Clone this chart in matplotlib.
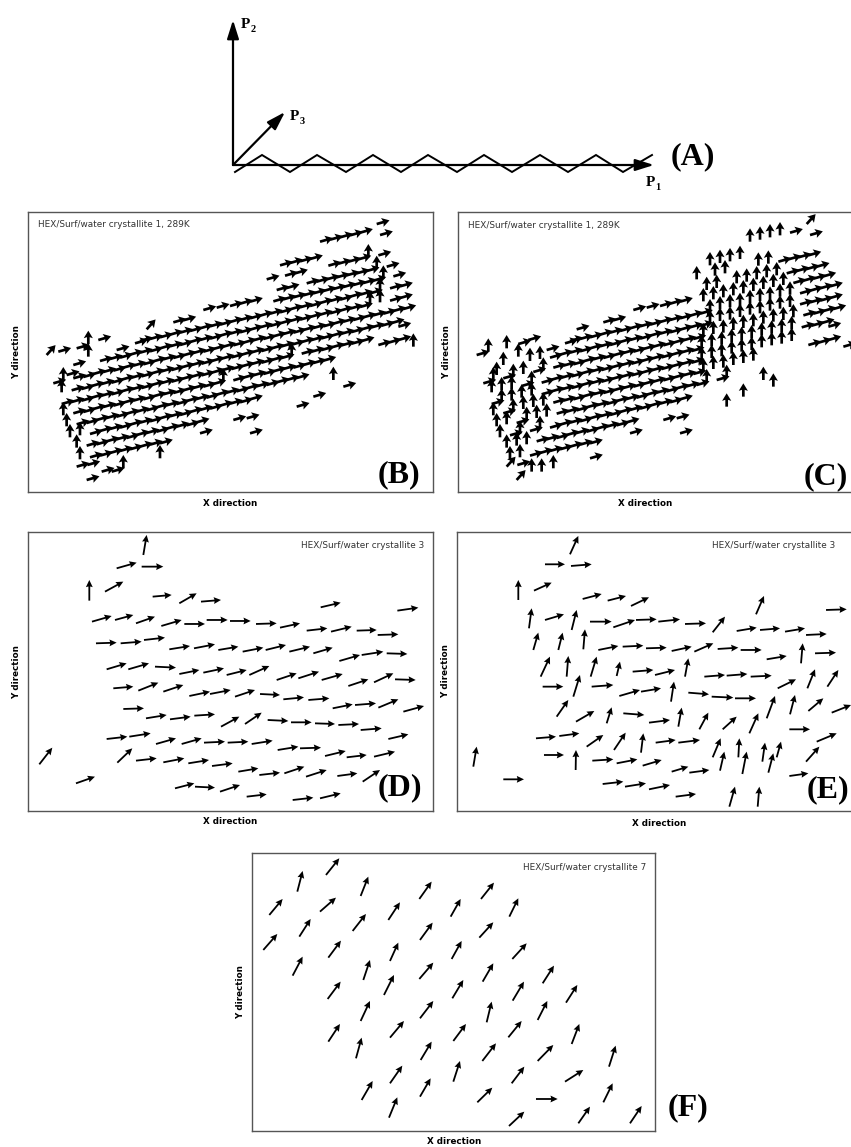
import numpy as np
import matplotlib
matplotlib.use("Agg")
import matplotlib.pyplot as plt

W, H = 851, 1147
fig = plt.figure(figsize=(W / 100, H / 100), dpi=100)

# ---------------- data ----------------
# Panel A schematic (zigzag chain along P1)
ZIGZAG_X = [235, 262, 290, 317, 346, 373, 401, 428, 457, 484, 512, 540, 568, 596, 623, 652]
ZIGZAG_Y = [172, 155, 172, 155, 172, 155, 172, 155, 172, 155, 172, 155, 172, 155, 172, 155]
ORIGIN = (233, 165)
P1_END = (654, 165)
P2_END = (233, 20)
P3_END = (285, 112)

# Panels B / C : molecule positions of crystallite 1 (same molecules in both panels)
ROW_X = [
    [960, 990, 1020, 1050, 1080],
    [840, 870, 900, 930],
    [800, 855, 885, 985, 1015, 1045, 1075, 1105, 1135],
    [830, 860, 920, 950, 980, 1010, 1040, 1070, 1100, 1130, 1160],
    [520, 550, 610, 650, 690, 720, 750, 820, 850, 880, 910, 940, 970, 1000, 1030, 1060, 1090, 1120, 1150, 1180],
    [420, 450, 480, 510, 540, 570, 600, 630, 660, 690, 720, 750, 780, 810, 840, 870, 900, 930, 960, 990, 1020,
     1050, 1080, 1110, 1140, 1170, 1200],
    [300, 330, 360, 390, 420, 450, 480, 510, 540, 570, 600, 630, 660, 690, 720, 750, 780, 810, 840, 870, 900,
     930, 960, 990, 1020, 1050, 1080, 1110, 1140, 1170, 1200],
    [190, 220, 250, 280, 310, 340, 370, 400, 430, 460, 490, 520, 550, 580, 610, 640, 670, 700, 730, 760, 790,
     820, 850, 880, 910, 940, 970, 1000, 1030, 1060, 1090, 1120, 1150, 1180, 1210],
    [185, 215, 245, 275, 305, 335, 365, 395, 425, 455, 485, 515, 545, 575, 605, 635, 665, 695, 725, 755, 785,
     815, 845, 875, 905, 935, 965, 995, 1025, 1055, 1085, 1115, 1145, 1175],
    [185, 215, 245, 275, 305, 335, 365, 395, 425, 455, 485, 515, 545, 575, 605, 635, 665, 695, 725, 755, 785,
     815, 845, 875, 905, 935, 965, 995, 1025, 1055, 1085, 1135, 1165, 1195],
    [190, 220, 250, 280, 310, 340, 370, 400, 430, 460, 490, 520, 550, 580, 610, 640, 670, 700, 730, 760, 790,
     820, 850, 880, 910, 940, 970],
    [200, 230, 260, 290, 320, 350, 380, 410, 440, 470, 500, 530, 560, 590, 620, 650, 680, 710, 740, 770, 800,
     830, 860, 890],
    [210, 240, 270, 300, 330, 360, 390, 420, 450, 480, 510, 540, 570, 600, 630, 660, 690, 720, 750],
    [230, 260, 290, 320, 350, 380, 410, 440, 470, 500, 530, 560, 590],
    [240, 270, 300, 330, 360, 390, 420, 450, 480],
]
ROW_Y = [
    [125, 119, 112, 106, 98],
    [196, 189, 184, 177],
    [238, 227, 220, 197, 191, 185, 178, 172, 166],
    [270, 264, 250, 245, 238, 232, 226, 220, 213, 207, 200],
    [367, 361, 330, 323, 318, 311, 305, 304, 298, 292, 286, 280, 273, 267, 261, 255, 249, 242, 236, 229],
    [423, 417, 412, 404, 398, 393, 385, 379, 374, 366, 360, 355, 347, 341, 337, 328, 322, 318, 309, 303, 299,
     290, 284, 280, 272, 265, 259],
    [483, 477, 473, 464, 458, 454, 445, 439, 435, 426, 420, 416, 407, 401, 397, 389, 382, 378, 370, 363, 359,
     351, 344, 340, 332, 326, 321, 313, 307, 302, 294],
    [541, 535, 531, 522, 516, 512, 503, 497, 493, 484, 478, 474, 466, 459, 455, 447, 440, 436, 428, 421, 417,
     409, 402, 398, 390, 384, 379, 371, 365, 360, 352, 346, 341, 333, 327],
    [577, 571, 567, 558, 552, 548, 539, 533, 529, 520, 514, 510, 502, 495, 491, 483, 476, 472, 464, 457, 453,
     445, 439, 434, 426, 420, 415, 407, 401, 396, 388, 382, 377, 369],
    [612, 606, 602, 593, 587, 583, 574, 568, 564, 555, 549, 545, 537, 530, 526, 518, 511, 507, 499, 492, 488,
     480, 474, 469, 461, 455, 450, 442, 436, 431, 423, 435, 428, 420],
    [646, 640, 636, 627, 621, 617, 608, 602, 598, 589, 583, 579, 571, 564, 560, 552, 545, 541, 533, 526, 522,
     514, 507, 503, 495, 489, 482],
    [679, 673, 669, 660, 654, 650, 641, 635, 631, 622, 616, 612, 603, 597, 593, 584, 578, 574, 565, 559, 555,
     547, 540, 534],
    [712, 706, 702, 693, 687, 683, 674, 668, 664, 655, 649, 645, 636, 630, 626, 617, 611, 607, 598],
    [743, 737, 733, 724, 718, 714, 705, 699, 695, 686, 680, 676, 667],
    [778, 772, 767, 759, 753, 748, 740, 734, 730],
]
# direction codes per molecule: r = along chain, u = up, d = diagonal
B_CODES = [
    "rrrrr", "rrrr", "rrrrrrrur", "rrrrrrrrrur", "r" * 18 + "ur", "r" * 24 + "urr",
    "r" * 27 + "uurr", "u" + "r" * 34, "u" + "r" * 33, "r" * 23 + "u" + "r" * 10,
    "u" + "r" * 15 + "u" + "r" * 10, "u" + "r" * 23, "uu" + "r" * 17, "u" + "r" * 12, "u" + "r" * 8,
]
C_CODES = [
    "uuuur", "uuuu", "uuuuurrrr", "uuuuuuurrrr", "r" * 7 + "u" * 9 + "r" * 4, "r" * 14 + "u" * 9 + "r" * 4,
    "uu" + "r" * 16 + "u" * 9 + "r" * 4, "uruuru" + "r" * 15 + "u" * 10 + "r" * 4,
    "uuurur" + "r" * 15 + "u" * 10 + "r" * 3, "ruuuur" + "r" * 15 + "u" * 10 + "r" * 3,
    "uruuuu" + "r" * 15 + "u" * 6, "uuruuu" + "r" * 15 + "uru", "ururu" + "r" * 14, "uuurr" + "r" * 8,
    "uur" + "r" * 6,
]
SINGLE_X = [1130, 1140, 140, 175, 230, 265, 295, 350, 405, 440, 220, 265, 160, 200, 230, 262, 305, 335, 370,
            260, 480, 600, 750, 700, 740, 890, 940, 1195, 1240, 1000, 1030]
SINGLE_Y = [72, 105, 465, 455, 445, 432, 420, 450, 430, 388, 495, 470, 550, 525, 800, 795, 815, 815, 805,
            840, 775, 700, 700, 660, 655, 620, 590, 380, 440, 540, 560]
SINGLE_B = "rrdrrurrrdrurrrrrrururrrrrrruurr"
SINGLE_C = "drruurrrrruurudruuudrrrrruurruu"
CODE_ANGLE = {"r": 16, "u": 90, "d": 48}

# Panel D : crystallite 3, (tail x, tail y, head x, head y)
D_ARROWS = [
    (430, 105, 440, 45), (350, 145, 410, 128), (425, 140, 490, 140), (268, 242, 268, 180), (315, 215, 370, 185),
    (458, 230, 515, 225), (538, 250, 590, 220), (603, 245, 663, 240), (962, 262, 1022, 248), (1192, 272, 1255, 263),
    (276, 305, 335, 288), (345, 300, 400, 285), (408, 310, 465, 290), (484, 318, 545, 300), (553, 312, 615, 312),
    (620, 300, 683, 300), (690, 303, 752, 303), (768, 312, 830, 310), (840, 323, 900, 310), (920, 332, 982, 325),
    (993, 335, 1055, 320), (1070, 332, 1130, 330), (1133, 345, 1195, 343), (288, 370, 350, 368), (362, 370, 425, 365),
    (432, 360, 495, 353), (508, 388, 570, 378), (582, 385, 645, 373), (655, 390, 715, 380), (728, 395, 790, 383),
    (797, 390, 858, 375), (868, 395, 930, 380), (940, 400, 998, 383), (1018, 423, 1080, 405), (1085, 405, 1150, 395),
    (1160, 400, 1222, 402), (320, 448, 380, 430), (385, 448, 447, 430), (465, 440, 528, 443), (538, 462, 598, 450),
    (610, 458, 672, 445), (680, 465, 740, 450), (748, 465, 808, 438), (830, 480, 890, 460), (895, 475, 957, 455),
    (965, 480, 1028, 462), (1045, 498, 1105, 478), (1122, 487, 1180, 460), (1185, 478, 1247, 480), (340, 505, 400, 500),
    (415, 512, 475, 488), (490, 515, 550, 495), (568, 528, 630, 515), (630, 522, 692, 510), (705, 530, 765, 510),
    (780, 522, 840, 525), (850, 538, 912, 532), (925, 540, 988, 535), (998, 565, 1058, 553), (1065, 555, 1128, 550),
    (1135, 563, 1195, 538), (1210, 575, 1272, 558), (370, 567, 432, 565), (438, 595, 500, 585), (510, 598, 572, 590),
    (583, 587, 645, 583), (663, 620, 718, 590), (735, 612, 785, 578), (803, 600, 865, 603), (873, 607, 935, 607),
    (945, 610, 1005, 612), (1015, 615, 1077, 612), (1082, 630, 1145, 625), (1165, 657, 1225, 643), (320, 657, 382, 650),
    (388, 650, 452, 640), (468, 672, 528, 655), (545, 672, 605, 655), (612, 668, 675, 665), (683, 668, 745, 665),
    (755, 672, 818, 662), (833, 690, 895, 680), (900, 685, 963, 683), (975, 708, 1037, 693), (1040, 712, 1100, 705),
    (1122, 710, 1185, 695), (118, 733, 157, 683), (352, 728, 397, 685), (408, 722, 470, 715), (490, 727, 553, 715),
    (565, 730, 627, 720), (636, 738, 698, 730), (228, 790, 285, 770), (715, 755, 775, 745), (778, 765, 840, 758),
    (853, 760, 913, 740), (918, 770, 980, 750), (1012, 768, 1072, 760), (1088, 785, 1140, 750), (525, 805, 583, 790),
    (585, 800, 645, 803), (660, 815, 720, 795), (740, 830, 800, 823), (878, 840, 940, 833), (960, 835, 1022, 820),
]

# Panel E : crystallite 3, second orientation
E_ARROWS = [
    (360, 103, 385, 48), (285, 133, 345, 133), (363, 138, 425, 133), (205, 240, 205, 180), (252, 212, 305, 188),
    (398, 237, 455, 222), (473, 242, 528, 228), (543, 258, 597, 232), (918, 283, 942, 228), (1128, 270, 1190, 268),
    (237, 325, 245, 265), (285, 300, 342, 283), (365, 330, 380, 270), (420, 305, 485, 305), (490, 322, 555, 300),
    (558, 300, 620, 298), (625, 305, 690, 298), (705, 312, 768, 310), (788, 337, 825, 290), (860, 333, 920, 323),
    (930, 330, 990, 325), (1005, 335, 1065, 325), (1068, 345, 1130, 342), (250, 390, 265, 338), (325, 390, 338, 338),
    (400, 388, 405, 328), (445, 390, 505, 378), (518, 380, 580, 377), (588, 385, 650, 383), (665, 393, 725, 380),
    (733, 395, 790, 370), (803, 387, 865, 383), (872, 390, 935, 390), (950, 418, 1010, 408), (1053, 430, 1058, 370),
    (1095, 400, 1158, 398), (272, 470, 300, 410), (350, 470, 355, 408), (422, 470, 440, 410), (500, 468, 510, 425),
    (548, 455, 610, 450), (615, 465, 675, 450), (705, 470, 715, 415), (763, 470, 825, 465), (830, 467, 892, 462),
    (902, 470, 965, 467), (278, 500, 340, 500), (370, 530, 390, 465), (425, 500, 490, 495), (508, 528, 570, 510),
    (573, 515, 633, 505), (663, 545, 672, 485), (715, 518, 777, 523), (785, 530, 850, 533), (855, 535, 918, 535),
    (983, 505, 1038, 478), (1072, 505, 1095, 448), (1132, 500, 1165, 450), (320, 590, 355, 540), (378, 605, 433, 573),
    (470, 610, 485, 562), (520, 580, 583, 585), (597, 608, 660, 600), (685, 620, 695, 563), (748, 628, 775, 578),
    (818, 628, 860, 590), (898, 640, 925, 580), (950, 595, 975, 528), (1020, 583, 1035, 525), (1075, 573, 1120, 535),
    (1145, 578, 1203, 555), (258, 655, 318, 650), (328, 648, 388, 640), (410, 680, 460, 645), (492, 690, 527, 638),
    (573, 698, 580, 640), (617, 668, 677, 660), (685, 668, 750, 660), (788, 712, 812, 655), (865, 712, 868, 655),
    (937, 725, 945, 668), (980, 712, 993, 665), (1018, 628, 1080, 628), (1100, 665, 1160, 640), (282, 705, 342, 705),
    (377, 750, 378, 690), (427, 722, 490, 718), (500, 730, 562, 718), (578, 737, 635, 720), (1068, 725, 1108, 680),
    (160, 778, 222, 778), (70, 740, 80, 680), (458, 792, 520, 785), (525, 800, 588, 790), (597, 808, 660, 795),
    (665, 755, 715, 740), (718, 758, 778, 750), (810, 752, 823, 695), (877, 762, 890, 695), (955, 758, 970, 700),
    (1018, 768, 1075, 760), (677, 830, 738, 822), (838, 860, 855, 800), (923, 860, 928, 800),
]

# Panel F : crystallite 7
F_ARROWS = [
    (258, 180, 298, 130), (172, 230, 188, 168), (88, 300, 128, 252), (240, 290, 288, 248), (362, 243, 385, 185),
    (538, 252, 575, 200), (723, 252, 762, 203), (70, 405, 112, 357), (178, 365, 212, 312), (338, 348, 378, 297),
    (445, 315, 480, 262), (632, 305, 662, 252), (808, 305, 835, 250), (158, 482, 188, 425), (265, 428, 303, 377),
    (540, 375, 578, 323), (718, 368, 760, 322), (450, 438, 475, 383), (635, 432, 665, 378), (817, 432, 860, 385),
    (370, 495, 390, 435), (263, 552, 302, 500), (432, 540, 462, 480), (538, 492, 580, 443), (728, 500, 760, 445),
    (908, 505, 942, 452), (637, 550, 670, 495), (818, 557, 852, 500), (978, 563, 1012, 510), (362, 618, 390, 558),
    (540, 610, 580, 558), (740, 622, 755, 560), (893, 615, 922, 558), (265, 680, 300, 627), (450, 668, 492, 618),
    (640, 678, 678, 627), (805, 667, 845, 618), (995, 687, 1018, 627), (348, 730, 365, 668), (542, 735, 575, 680),
    (727, 738, 768, 685), (893, 738, 940, 690), (1107, 755, 1127, 692), (450, 805, 487, 752), (640, 800, 660, 738),
    (815, 805, 853, 755), (975, 800, 1030, 765), (365, 855, 398, 798), (540, 845, 572, 790), (712, 862, 757, 818),
    (888, 852, 953, 852), (1090, 862, 1118, 805), (447, 908, 472, 847), (807, 933, 853, 890), (1015, 925, 1050, 875),
    (1170, 925, 1205, 873),
]

TITLE_1 = "HEX/Surf/water crystallite 1, 289K"
TITLE_3 = "HEX/Surf/water crystallite 3"
TITLE_7 = "HEX/Surf/water crystallite 7"

# ---------------- helpers ----------------
SERIF = ["Liberation Serif", "DejaVu Serif"]


def px_axes(l, t, r, b):
    ax = fig.add_axes([l / W, 1 - b / H, (r - l) / W, (b - t) / H])
    ax.set_xticks([])
    ax.set_yticks([])
    for s in ax.spines.values():
        s.set_color("#555555")
        s.set_linewidth(1.0)
    return ax


def dense_quiver(ax, codes_rows, single_codes):
    xs, ys, us, vs = [], [], [], []
    for rx, ry, rc in zip(ROW_X, ROW_Y, codes_rows):
        rc = (rc + "r" * len(rx))[: len(rx)]
        for x, y, c in zip(rx, ry, rc):
            a = np.deg2rad(CODE_ANGLE[c])
            xs.append(x); ys.append(y); us.append(np.cos(a)); vs.append(np.sin(a))
    sc = (single_codes + "r" * len(SINGLE_X))[: len(SINGLE_X)]
    for x, y, c in zip(SINGLE_X, SINGLE_Y, sc):
        a = np.deg2rad(CODE_ANGLE[c])
        xs.append(x); ys.append(y); us.append(np.cos(a)); vs.append(np.sin(a))
    us = np.array(us) * 40
    vs = np.array(vs) * 40
    ax.quiver(xs, ys, us, vs, angles="uv", scale_units="x", scale=1, units="dots",
              width=2.7, headwidth=3.4, headlength=2.8, headaxislength=2.4,
              color="black", pivot="tail", zorder=3)


def vector_quiver(ax, arrows):
    arr = np.array(arrows, dtype=float)
    x0, y0, x1, y1 = arr.T
    ax.quiver(x0, y0, x1 - x0, y0 - y1, angles="uv", scale_units="x", scale=1, units="dots",
              width=1.8, headwidth=3.8, headlength=4.0, headaxislength=3.6,
              color="black", pivot="tail", zorder=3)


def labels(l, t, r, b, tag, tag_x, tag_y):
    fig.text(l / W - 12 / W, 1 - ((t + b) / 2) / H, "Y direction", rotation=90, ha="center", va="center",
             fontsize=6.3, fontweight="bold")
    fig.text(((l + r) / 2) / W, 1 - (b + 11) / H, "X direction", ha="center", va="center",
             fontsize=6.3, fontweight="bold")
    fig.text(tag_x / W, 1 - tag_y / H, tag, ha="center", va="center", fontsize=23,
             fontweight="bold", family=SERIF)


# ---------------- panel A ----------------
axA = fig.add_axes([0, 0, 1, 1])
axA.set_xlim(0, W)
axA.set_ylim(H, 0)
axA.axis("off")
axA.plot(ZIGZAG_X, ZIGZAG_Y, color="black", lw=1.4, solid_joinstyle="miter")
for end in (P1_END, P2_END, P3_END):
    axA.annotate("", xy=end, xytext=ORIGIN,
                 arrowprops=dict(arrowstyle="-|>,head_length=0.7,head_width=0.22", lw=1.6,
                                 color="black", mutation_scale=16, shrinkA=0, shrinkB=0))
for (px, py, sub) in [(245, 24, "2"), (294, 116, "3"), (650, 182, "1")]:
    axA.text(px, py, "P", fontsize=11, fontweight="bold", family=SERIF, ha="center", va="center")
    axA.text(px + 8, py + 5, sub, fontsize=7.5, fontweight="bold", family=SERIF, ha="center", va="center")
fig.text(693 / W, 1 - 157 / H, "(A)", ha="center", va="center", fontsize=23, fontweight="bold", family=SERIF)

# ---------------- panel B ----------------
boxB = (28.3, 211.7, 432.7, 492.3)
axB = px_axes(*boxB)
dense_quiver(axB, B_CODES, SINGLE_B)
axB.set_xlim(85, 1298)
axB.set_ylim(877, 35)
axB.text(0.024, 0.955, TITLE_1, transform=axB.transAxes, fontsize=6.4, color="#333333", va="center", ha="left")
labels(*boxB, "(B)", 399, 475)

# ---------------- panel C ----------------
boxC = (458.3, 211.7, 862.7, 492.3)
axC = px_axes(*boxC)
dense_quiver(axC, C_CODES, SINGLE_C)
axC.set_xlim(85, 1298)
axC.set_ylim(877, 35)
fig.text(468.3 / W, 1 - 225 / H, TITLE_1, fontsize=6.4, color="#333333", va="center", ha="left")
fig.text(446.3 / W, 1 - 352 / H, "Y direction", rotation=90, ha="center", va="center", fontsize=6.3,
         fontweight="bold")
fig.text(645 / W, 1 - 503 / H, "X direction", ha="center", va="center", fontsize=6.3, fontweight="bold")
fig.text(848 / W, 1 - 477 / H, "(C)", ha="right", va="center", fontsize=23, fontweight="bold", family=SERIF)

# ---------------- panel D ----------------
boxD = (28.3, 532.3, 432.7, 811.0)
axD = px_axes(*boxD)
vector_quiver(axD, D_ARROWS)
axD.set_xlim(85, 1298)
axD.set_ylim(873, 37)
fig.text(424 / W, 1 - 546 / H, TITLE_3, fontsize=6.4, color="#333333", va="center", ha="right")
labels(*boxD, "(D)", 400, 788)

# ---------------- panel E ----------------
boxE = (457.3, 532.3, 861.7, 811.0)
axE = px_axes(*boxE)
vector_quiver(axE, E_ARROWS)
axE.set_xlim(22, 1235)
axE.set_ylim(873, 37)
fig.text(711.7 / W, 1 - 546 / H, TITLE_3, fontsize=6.4, color="#333333", va="center", ha="left")
fig.text(445.3 / W, 1 - 671 / H, "Y direction", rotation=90, ha="center", va="center", fontsize=6.3,
         fontweight="bold")
fig.text(659 / W, 1 - 823 / H, "X direction", ha="center", va="center", fontsize=6.3, fontweight="bold")
fig.text(849 / W, 1 - 790 / H, "(E)", ha="right", va="center", fontsize=23, fontweight="bold", family=SERIF)

# ---------------- panel F ----------------
boxF = (252.3, 853.3, 655.0, 1131.0)
axF = px_axes(*boxF)
vector_quiver(axF, F_ARROWS)
axF.set_xlim(37, 1245)
axF.set_ylim(948, 115)
fig.text(646 / W, 1 - 867 / H, TITLE_7, fontsize=6.4, color="#333333", va="center", ha="right")
labels(*boxF, "(F)", 688, 1108)

fig.savefig("out.png", dpi=100, facecolor="white")
